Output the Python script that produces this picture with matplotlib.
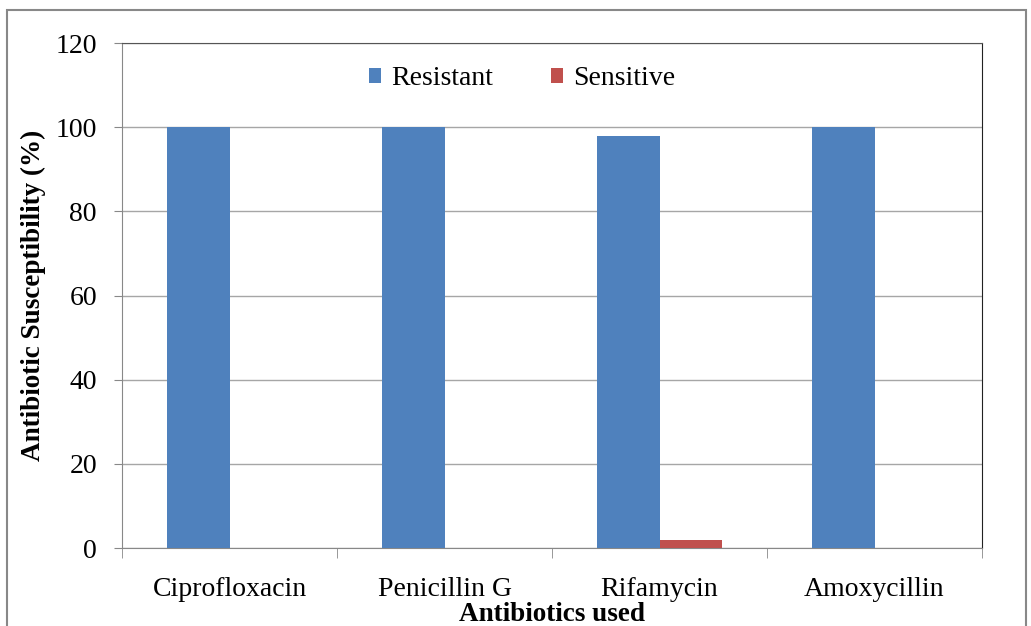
import matplotlib.pyplot as plt
import matplotlib.patches as patches
import numpy as np

antibiotics = ["Ciprofloxacin", "Penicillin G", "Rifamycin", "Amoxycillin"]
resistant = [100, 100, 98, 100]
sensitive = [0, 0, 2, 0]

plt.rcParams['font.family'] = ['Liberation Serif', 'DejaVu Serif']

fig = plt.figure(figsize=(10.31, 6.26), dpi=100)
ax = fig.add_axes([122 / 1031, 1 - 548 / 626, 860 / 1031, 505 / 626])

x = np.arange(len(antibiotics))
w = 0.29
ax.bar(x - w / 2, resistant, w, color="#4f81bd", label="Resistant", zorder=3)
ax.bar(x + w / 2, sensitive, w, color="#c0504d", label="Sensitive", zorder=3)

ax.set_xlim(-0.5, 3.5)
ax.set_ylim(0, 120)
ax.set_yticks(range(0, 121, 20))
ax.yaxis.grid(True, color="#a6a6a6", linewidth=1, zorder=0)
ax.tick_params(axis="y", labelsize=20, direction="out", length=6, color="#888888", pad=12)

ax.set_xticks(x)
ax.set_xticklabels(antibiotics)
ax.tick_params(axis="x", labelsize=20, length=0, pad=21)
ax.set_xticks(np.arange(-0.5, 4.0, 1), minor=True)
ax.tick_params(axis="x", which="minor", direction="out", length=7, color="#888888")

for s in ["left", "bottom"]:
    ax.spines[s].set_color("#888888")
ax.spines["top"].set_color("#555555")
ax.spines["right"].set_color("#222222")

ax.set_ylabel("Antibiotic Susceptibility (%)", fontsize=19.5, fontweight="bold")
ax.yaxis.set_label_coords(-76 / 860, 0.5)
ax.set_xlabel("Antibiotics used", fontsize=19.5, fontweight="bold")
ax.xaxis.set_label_coords(0.5, -54 / 505)

ax.legend(loc="upper center", bbox_to_anchor=(0.465, 1.003), ncol=2, frameon=False,
          fontsize=20, handlelength=0.45, handleheight=0.45, handletextpad=0.35,
          columnspacing=2.1)

border = patches.Rectangle((7 / 1031, -0.1), 1019 / 1031, 1.1 - 10 / 626, transform=fig.transFigure,
                           fill=False, edgecolor="#888888", linewidth=1.5)
fig.patches.append(border)

fig.savefig("out.png", dpi=100)
